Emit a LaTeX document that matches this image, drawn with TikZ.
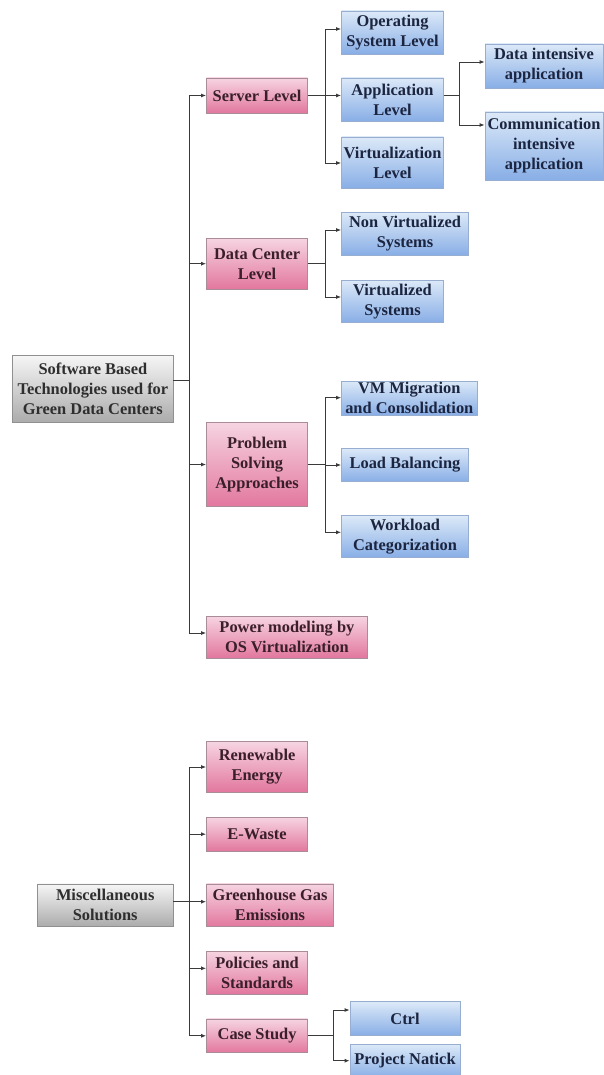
\documentclass[tikz,border=0pt]{standalone}
\usepackage{fontspec}
\setmainfont{Liberation Serif}
\usetikzlibrary{arrows.meta,shadings}
\definecolor{pinktop}{HTML}{F6D4E1}
\definecolor{pinkbot}{HTML}{E2779E}
\definecolor{pinkline}{HTML}{A98C98}
\definecolor{pinktext}{HTML}{3A1F2B}
\definecolor{bluetop}{HTML}{DCE9F8}
\definecolor{bluebot}{HTML}{88AEE6}
\definecolor{blueline}{HTML}{97AED0}
\definecolor{bluetext}{HTML}{1C2540}
\definecolor{graytop}{HTML}{F6F6F6}
\definecolor{graybot}{HTML}{ABABAB}
\definecolor{grayline}{HTML}{909090}
\definecolor{graytext}{HTML}{2E2E2E}
\definecolor{linecol}{HTML}{3A3A3A}
\begin{document}
\begin{tikzpicture}[x=1pt,y=-1pt,
  box/.style={draw, line width=0.8pt, inner sep=0pt, align=center,
    font=\fontsize{16.4}{20}\selectfont\bfseries},
  pinkbox/.style={box, draw=pinkline, top color=pinktop, bottom color=pinkbot, text=pinktext},
  bluebox/.style={box, draw=blueline, top color=bluetop, bottom color=bluebot, text=bluetext},
  graybox/.style={box, draw=grayline, top color=graytop, bottom color=graybot, text=graytext},
  conn/.style={draw=linecol, line width=0.9pt},
  arr/.style={conn, -{Latex[length=5pt,width=4pt]}}]
\useasboundingbox (0,0) rectangle (603,1075);

% ---- upper tree ----
\node[graybox, minimum width=160.3pt, minimum height=67.3pt] (sw) at (92.9,388.7)
  {Software Based\\Technologies used for\\Green Data Centers};

\node[pinkbox, minimum width=101.2pt, minimum height=35pt] (server) at (257.1,95.5) {Server Level};
\node[pinkbox, minimum width=101.2pt, minimum height=50.7pt] (dcl) at (257.1,263.7) {Data Center\\Level};
\node[pinkbox, minimum width=101.2pt, minimum height=84.4pt] (psa) at (257.1,464.5) {Problem\\Solving\\Approaches};
\node[pinkbox, minimum width=160.8pt, minimum height=42pt] (pm) at (286.9,637) {Power modeling by\\OS Virtualization};

\node[bluebox, minimum width=102pt, minimum height=43pt] (os) at (392.5,32.5) {Operating\\System Level};
\node[bluebox, minimum width=102pt, minimum height=43pt] (app) at (392.5,99.5) {Application\\Level};
\node[bluebox, minimum width=102pt, minimum height=51pt] (virt) at (392.5,162.5) {Virtualization\\Level};
\node[bluebox, minimum width=118pt, minimum height=44pt] (di) at (544,66) {Data intensive\\application};
\node[bluebox, minimum width=118pt, minimum height=68pt] (ci) at (544,146) {Communication\\intensive\\application};

\node[bluebox, minimum width=127pt, minimum height=42.3pt] (nvs) at (405,233.8) {Non Virtualized\\Systems};
\node[bluebox, minimum width=102pt, minimum height=42.3pt] (vs) at (392.5,301.2) {Virtualized\\Systems};

\node[bluebox, minimum width=135.5pt, minimum height=34pt] (vm) at (409.3,398) {VM Migration\\and Consolidation};
\node[bluebox, minimum width=127pt, minimum height=33.4pt] (lb) at (405,465) {Load Balancing};
\node[bluebox, minimum width=127pt, minimum height=42pt] (wl) at (405,536.7) {Workload\\Categorization};

% connectors upper
\coordinate (spine) at (189.6,380);
\draw[conn] (sw.east |- spine) -- (spine);
\draw[arr] (spine) |- (server.west);
\draw[arr] (spine) |- (dcl.west);
\draw[arr] (spine) |- (psa.west);
\draw[arr] (spine) |- (pm.west |- 0,633);

\coordinate (b1) at (325,95.5);
\draw[conn] (server.east) -- (b1);
\draw[arr] (b1) |- (os.west |- 0,29);
\draw[arr] (b1) -- (app.west |- b1);
\draw[arr] (b1) |- (virt.west |- 0,163);

\coordinate (b2) at (459.6,95.7);
\draw[conn] (app.east |- b2) -- (b2);
\draw[arr] (b2) |- (di.west |- 0,62);
\draw[arr] (b2) |- (ci.west |- 0,125);

\coordinate (b3) at (325,263.7);
\draw[conn] (dcl.east) -- (b3);
\draw[arr] (b3) |- (nvs.west |- 0,230);
\draw[arr] (b3) |- (vs.west |- 0,297);

\coordinate (b4) at (325,464.5);
\draw[conn] (psa.east) -- (b4);
\draw[arr] (b4) |- (vm.west |- 0,397.7);
\draw[arr] (b4) |- (lb.west);
\draw[arr] (b4) |- (wl.west |- 0,532.3);

% ---- lower tree ----
\node[graybox, minimum width=135.7pt, minimum height=42.7pt] (misc) at (105.2,905.3) {Miscellaneous\\Solutions};

\node[pinkbox, minimum width=101.2pt, minimum height=50.6pt] (re) at (257.1,767) {Renewable\\Energy};
\node[pinkbox, minimum width=101.2pt, minimum height=33.7pt] (ew) at (257.1,834.2) {E-Waste};
\node[pinkbox, minimum width=127pt, minimum height=42.7pt] (gg) at (270,905.3) {Greenhouse Gas\\Emissions};
\node[pinkbox, minimum width=101.2pt, minimum height=43pt] (ps) at (257.1,972.5) {Policies and\\Standards};
\node[pinkbox, minimum width=101.2pt, minimum height=33.7pt] (cs) at (257.1,1035.8) {Case Study};

\node[bluebox, minimum width=110pt, minimum height=33.6pt] (ctrl) at (405,1018.5) {Ctrl};
\node[bluebox, minimum width=110pt, minimum height=34pt] (pn) at (405,1061) {Project Natick};

\coordinate (spine2) at (189.6,901.7);
\draw[conn] (misc.east |- spine2) -- (spine2);
\draw[arr] (spine2) |- (re.west);
\draw[arr] (spine2) |- (ew.west);
\draw[arr] (spine2) -- (gg.west |- spine2);
\draw[arr] (spine2) |- (ps.west |- 0,968.3);
\draw[arr] (spine2) |- (cs.west);

\coordinate (b5) at (333,1035.8);
\draw[conn] (cs.east) -- (b5);
\draw[arr] (b5) |- (ctrl.west |- 0,1010);
\draw[arr] (b5) |- (pn.west |- 0,1060.7);
\end{tikzpicture}
\end{document}
